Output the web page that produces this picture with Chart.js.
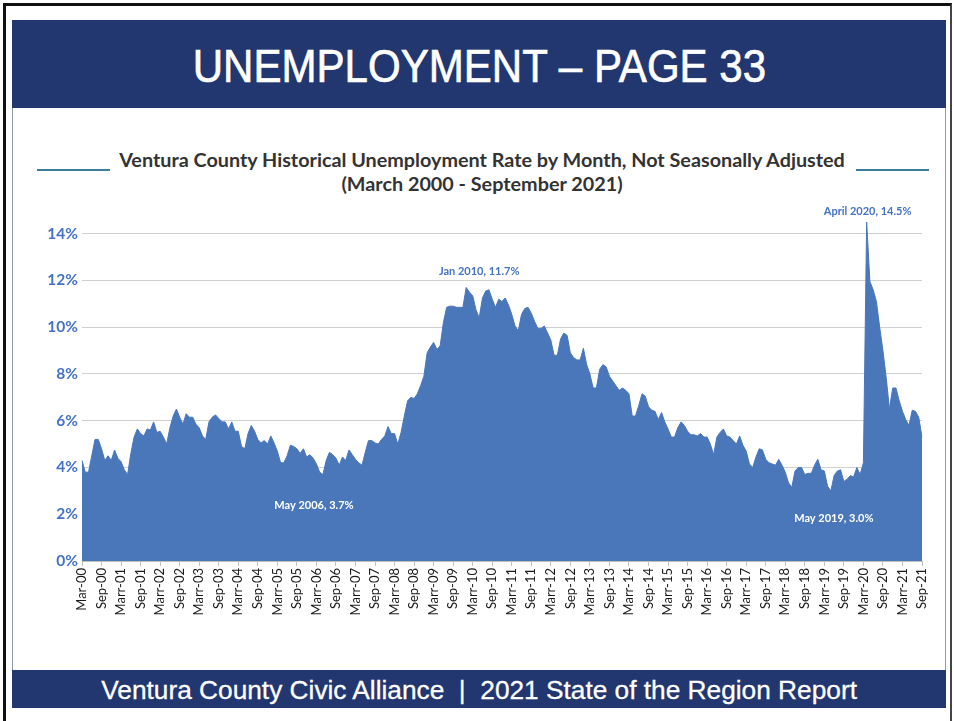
<!DOCTYPE html>
<html>
<head>
<meta charset="utf-8">
<script src="https://cdn.jsdelivr.net/npm/chart.js@4.4.1/dist/chart.umd.min.js"></script>
<style>
  body { margin: 0; width: 954px; height: 721px; background: #fff; position: relative; overflow: hidden; font-family: Lato, sans-serif; }
  .frame { position: absolute; left: 3px; top: 3px; width: 944px; height: 740px; border-left: 3px solid #111; border-top: 3px solid #111; border-right: 2px solid #444; }
  .panel { position: absolute; left: 12px; top: 20px; width: 932px; height: 688px; border-left: 1px solid #8d9ba6; border-right: 1px solid #8d9ba6; }
  .band { position: absolute; left: 12px; width: 934px; background: #223670; color: #fff; text-align: center; font-family: "Liberation Sans", sans-serif; -webkit-text-stroke: 0.7px #fff; }
  .band span { display: inline-block; }
  .header { top: 20px; height: 88px; line-height: 92px; font-size: 47px; }
  .header span { transform: scaleX(0.895); }
  .footer { top: 670px; height: 38px; line-height: 40px; font-size: 26px; }
  .footer span { transform: scaleX(1.01); -webkit-text-stroke: 0.3px #fff; }
  .title { position: absolute; left: 0; width: 964px; top: 147px; text-align: center; color: #333; font-weight: bold; font-size: 19.8px; line-height: 24px; }
  .rule { position: absolute; top: 169px; width: 73px; height: 2px; background: #3b7d9b; }
  #wrap { position: absolute; left: 20px; top: 190px; width: 920px; height: 450px; }
</style>
</head>
<body>
<div class="frame"></div>
<div class="panel"></div>
<div class="band header"><span>UNEMPLOYMENT – PAGE 33</span></div>
<div class="rule" style="left:37px"></div>
<div class="rule" style="left:856px"></div>
<div class="title">Ventura County Historical Unemployment Rate by Month, Not Seasonally Adjusted<br>(March 2000 - September 2021)</div>
<div id="wrap"><canvas id="chart"></canvas></div>
<div class="band footer"><span>Ventura County Civic Alliance &nbsp;|&nbsp; 2021 State of the Region Report</span></div>

<script>
// monthly rate (%), Mar 2000 .. Sep 2021, one row per calendar year
const rates = [
  4.3, 3.8, 3.8, 4.5, 5.2, 5.2, 4.8, 4.3, 4.5, 4.3,                       // 2000 (Mar-Dec)
  4.75, 4.4, 4.25, 3.9, 3.7, 4.6, 5.3, 5.65, 5.45, 5.35, 5.65, 5.6,        // 2001
  5.95, 5.5, 5.55, 5.3, 5.0, 5.7, 6.2, 6.5, 6.15, 5.85, 6.3, 6.15,         // 2002
  6.15, 5.85, 5.7, 5.35, 5.2, 5.95, 6.15, 6.25, 6.1, 5.95, 5.95, 5.65,     // 2003
  5.95, 5.55, 5.55, 4.9, 4.8, 5.45, 5.8, 5.55, 5.2, 5.05, 5.15, 5.0,       // 2004
  5.35, 5.05, 4.7, 4.2, 4.2, 4.5, 4.95, 4.9, 4.8, 4.6, 4.8, 4.45,          // 2005
  4.55, 4.4, 4.15, 3.8, 3.7, 4.3, 4.65, 4.55, 4.4, 4.1, 4.45, 4.3,         // 2006
  4.75, 4.55, 4.35, 4.2, 4.1, 4.65, 5.15, 5.15, 5.05, 5.0, 5.2, 5.35,      // 2007
  5.75, 5.45, 5.45, 5.0, 5.5, 6.2, 6.85, 7.0, 6.95, 7.15, 7.5, 7.9,        // 2008
  8.9, 9.15, 9.35, 9.05, 9.2, 10.2, 10.85, 10.9, 10.9, 10.85, 10.85, 10.85, // 2009
  11.7, 11.5, 11.35, 10.75, 10.4, 11.25, 11.55, 11.6, 11.2, 10.85, 11.2, 11.1, // 2010
  11.25, 10.95, 10.55, 10.05, 9.85, 10.55, 10.8, 10.85, 10.6, 10.25, 9.95, 9.95, // 2011
  10.05, 9.75, 9.45, 8.8, 8.8, 9.5, 9.75, 9.65, 8.9, 8.7, 8.6, 8.6,        // 2012
  9.1, 8.4, 8.0, 7.4, 7.4, 8.2, 8.4, 8.3, 7.9, 7.7, 7.5, 7.3,              // 2013
  7.4, 7.3, 7.15, 6.2, 6.2, 6.65, 7.15, 7.05, 6.6, 6.45, 6.4, 6.05,        // 2014
  6.35, 5.95, 5.65, 5.3, 5.3, 5.7, 5.95, 5.8, 5.55, 5.4, 5.4, 5.35,        // 2015
  5.45, 5.3, 5.3, 5.0, 4.55, 5.3, 5.5, 5.65, 5.35, 5.3, 5.15, 5.0,         // 2016
  5.35, 4.95, 4.7, 4.15, 4.0, 4.45, 4.8, 4.75, 4.35, 4.2, 4.15, 4.1,       // 2017
  4.35, 4.1, 3.8, 3.35, 3.15, 3.85, 4.0, 4.0, 3.7, 3.75, 3.75, 4.1,        // 2018
  4.35, 3.9, 3.85, 3.2, 3.0, 3.65, 3.85, 3.9, 3.4, 3.5, 3.65, 3.6,         // 2019
  4.0, 3.7, 4.2, 14.5, 11.95, 11.6, 11.1, 10.0, 9.0, 7.85, 6.5, 7.4,       // 2020
  7.4, 6.85, 6.4, 6.05, 5.8, 6.45, 6.4, 6.15, 5.3                          // 2021 (Jan-Sep)
];

// axis labels every six months, as printed (typos included)
const tickLabels = [
  'Mar-00', 'Sep-00', 'Marr-01', 'Sep-01', 'Marr-02', 'Sep-02', 'Marr-03', 'Sep-03',
  'Marr-04', 'Sep-04', 'Marr-05', 'Sep-05', 'Marr-06', 'Sep-06', 'Marr-07', 'Sep-07',
  'Marr-08', 'Sep-08', 'Marr-09', 'Sep-09', 'Marr-10', 'Sep-10', 'Marr-11', 'Sep-11',
  'Marr-12', 'Sep-12', 'Marr-13', 'Sep-13', 'Marr-14', 'Sep-14', 'Marr-15', 'Sep-15',
  'Marr-16', 'Sep-16', 'Marr-17', 'Sep-17', 'Marr-18', 'Sep-18', 'Marr-19', 'Sep-19',
  'Marr-20', 'Sep-20', 'Marr-21', 'Sep-21'
];

const yTicks = [0, 2, 4, 6, 8, 10, 12, 14];

// callouts: text, month index
const calloutText = ['Jan 2010, 11.7%', 'April 2020, 14.5%', 'May 2006, 3.7%', 'May 2019, 3.0%'];
const calloutIndex = [118, 241, 74, 230];

const monthNames = ['Jan', 'Feb', 'Mar', 'Apr', 'May', 'Jun', 'Jul', 'Aug', 'Sep', 'Oct', 'Nov', 'Dec'];
const months = rates.map((_, i) => {
  const m = (2 + i) % 12;
  const y = 2000 + Math.floor((2 + i) / 12);
  return monthNames[m] + ' ' + y;
});

const callouts = {
  id: 'callouts',
  afterDatasetsDraw(chart) {
    const { ctx, scales: { x, y } } = chart;
    // offsets relative to the data point: [dx, dy, colour]
    const place = [[13, -16, '#4472c4'], [1, -11, '#4472c4'], [-9, 31, '#ffffff'], [3, 28, '#ffffff']];
    ctx.save();
    ctx.font = 'bold 11px Lato';
    ctx.textAlign = 'center';
    ctx.textBaseline = 'middle';
    calloutText.forEach((t, k) => {
      const i = calloutIndex[k];
      const px = x.getPixelForValue(i) + place[k][0];
      const py = y.getPixelForValue(rates[i]) + place[k][1];
      ctx.fillStyle = place[k][2];
      ctx.fillText(t, px, py);
    });
    ctx.restore();
  }
};

const ctx = document.getElementById('chart').getContext('2d');
new Chart(ctx, {
  type: 'line',
  data: {
    labels: months,
    datasets: [{
      data: rates,
      fill: 'origin',
      backgroundColor: '#4a77ba',
      borderColor: '#4a77ba',
      borderWidth: 1,
      pointRadius: 0,
      tension: 0
    }]
  },
  options: {
    responsive: true,
    maintainAspectRatio: false,
    animation: false,
    layout: { padding: { top: 10, right: 18, left: 0, bottom: 0 } },
    plugins: { legend: { display: false }, tooltip: { enabled: false } },
    scales: {
      x: {
        offset: false,
        afterBuildTicks: scale => { scale.ticks = scale.ticks.filter(t => t.value % 6 === 0); },
        afterFit: scale => { scale.height = 79; },
        ticks: {
          autoSkip: false,
          maxRotation: 90,
          minRotation: 90,
          padding: 2,
          color: '#1a1a1a',
          font: { family: 'Lato', size: 13 },
          callback: value => tickLabels[value / 6]
        },
        grid: { drawOnChartArea: false, drawTicks: true, tickLength: 5, color: '#bfbfbf' },
        border: { display: true, color: '#bfbfbf' }
      },
      y: {
        min: 0,
        max: 15.3,
        afterFit: scale => { scale.width = 62; },
        afterBuildTicks: scale => { scale.ticks = yTicks.map(v => ({ value: v })); },
        ticks: {
          padding: 4,
          color: '#4472c4',
          font: { family: 'Lato', size: 15.5, weight: 'bold' },
          callback: v => v + '%'
        },
        grid: { color: '#d0d0d0', drawTicks: false },
        border: { display: false }
      }
    }
  },
  plugins: [callouts]
});
</script>
</body>
</html>
